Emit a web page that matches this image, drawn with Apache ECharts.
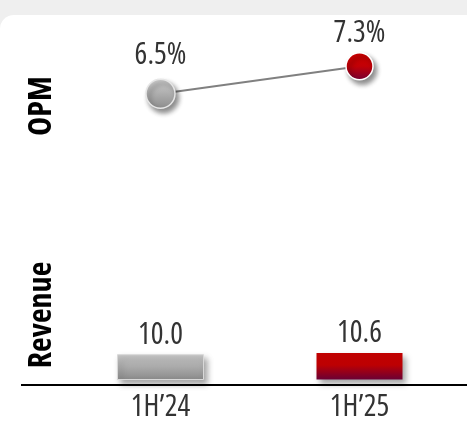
<!DOCTYPE html>
<html>
<head>
<meta charset="utf-8">
<script src="https://cdn.jsdelivr.net/npm/echarts@6/dist/echarts.min.js"></script>
<style>
html,body{margin:0;padding:0;background:#efefef;}
#chart{width:467px;height:422px;}
</style>
</head>
<body>
<div id="chart"></div>
<script>
const categories = ['1H\u201924', '1H\u201925'];
const opmValues = [6.5, 7.3];
const opmLabels = ['6.5%', '7.3%'];
const revenueValues = [10.0, 10.6];
const revenueLabels = ['10.0', '10.6'];
const rowNames = ['OPM', 'Revenue'];

const FONT = '"Open Sans", "Liberation Sans", sans-serif';
const NARROW = 'condensed'; // font-stretch keyword, placed before the size in the canvas font string

const grayBar = new echarts.graphic.LinearGradient(0, 0, 0, 1, [
  {offset: 0, color: '#c9c9c9'}, {offset: 1, color: '#8a8a8a'}]);
const redBar = new echarts.graphic.LinearGradient(0, 0, 0, 1, [
  {offset: 0, color: '#c00000'}, {offset: 0.45, color: '#bd0002'}, {offset: 1, color: '#680036'}]);
const grayDot = new echarts.graphic.LinearGradient(0, 0, 0, 1, [
  {offset: 0, color: '#cfcfcf'}, {offset: 1, color: '#8c8c8c'}]);
const redDot = new echarts.graphic.LinearGradient(0, 0, 0, 1, [
  {offset: 0, color: '#d00000'}, {offset: 0.5, color: '#c20006'}, {offset: 1, color: '#740035'}]);

const chart = echarts.init(document.getElementById('chart'), null, {renderer: 'canvas'});

const option = {
  backgroundColor: '#efefef',
  animation: false,
  graphic: [
    {type: 'rect', z: -10, shape: {x: 0, y: 15, width: 480, height: 420, r: [14, 0, 0, 0]}, style: {fill: '#ffffff'}},
    {type: 'line', z: 5, shape: {x1: 21, y1: 385, x2: 467, y2: 385}, style: {stroke: '#000000', lineWidth: 2}},
    {type: 'text', x: 42, y: 106, rotation: Math.PI / 2, style: {text: rowNames[0], font: NARROW + ' bold 32px ' + FONT, fill: '#000', align: 'center', verticalAlign: 'middle'}},
    {type: 'text', x: 42, y: 315, rotation: Math.PI / 2, style: {text: rowNames[1], font: NARROW + ' bold 32px ' + FONT, fill: '#000', align: 'center', verticalAlign: 'middle'}}
  ],
  grid: [
    {left: 61, right: 8, top: 42, height: 69},
    {left: 61, right: 8, bottom: 37, height: 36}
  ],
  xAxis: [
    {gridIndex: 0, type: 'category', data: categories, show: false},
    {gridIndex: 1, type: 'category', data: categories,
      axisLine: {show: false}, axisTick: {show: false},
      axisLabel: {margin: 12, color: '#333', fontStyle: NARROW, fontSize: 30, fontFamily: FONT}}
  ],
  yAxis: [
    {gridIndex: 0, type: 'value', min: 6, max: 8, show: false},
    {gridIndex: 1, type: 'value', min: 0, max: 12, show: false}
  ],
  series: [
    {
      type: 'line', xAxisIndex: 0, yAxisIndex: 0,
      lineStyle: {color: '#808080', width: 2},
      symbol: 'circle',
      data: opmValues.map((v, i) => ({
        value: v,
        symbolSize: i === 0 ? 29 : 27,
        itemStyle: {
          color: i === 0 ? grayDot : redDot,
          borderColor: i === 0 ? '#e6e6e6' : '#ffffff', borderWidth: 1.5,
          shadowColor: 'rgba(0,0,0,0.45)', shadowBlur: 5, shadowOffsetX: 3, shadowOffsetY: 4
        },
        label: {
          show: true, position: 'top', distance: i === 0 ? 8 : 3,
          formatter: opmLabels[i], color: '#333', fontStyle: NARROW, fontSize: 30, fontFamily: FONT
        }
      })),
      z: 3
    },
    {
      type: 'bar', xAxisIndex: 1, yAxisIndex: 1, barWidth: 87,
      data: revenueValues.map((v, i) => ({
        value: v,
        itemStyle: {
          color: i === 0 ? grayBar : redBar,
          borderColor: i === 0 ? '#d8d8d8' : 'rgba(0,0,0,0)', borderWidth: 1,
          shadowColor: 'rgba(0,0,0,0.35)', shadowBlur: 6, shadowOffsetX: 3, shadowOffsetY: 4
        },
        label: {
          show: true, position: 'top', distance: 4,
          formatter: revenueLabels[i], color: '#333', fontStyle: NARROW, fontSize: 30, fontFamily: FONT
        }
      }))
    }
  ]
};
chart.setOption(option);
</script>
</body>
</html>
